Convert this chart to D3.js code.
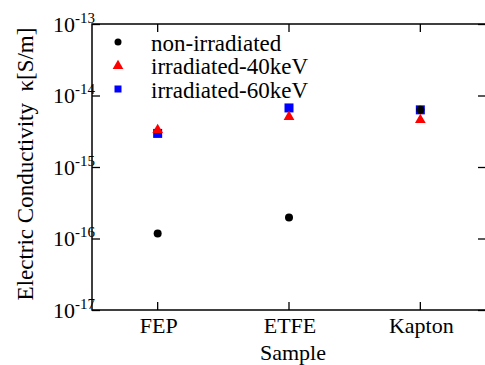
<!DOCTYPE html>
<html>
<head>
<meta charset="utf-8">
<script src="https://cdn.jsdelivr.net/npm/d3@7"></script>
<style>
  body { margin: 0; background: #fff; }
  svg { display: block; }
  svg text { font-family: 'Times New Roman', 'Liberation Serif', Times, 'DejaVu Serif', serif; }
</style>
</head>
<body>
<div id="chart"></div>
<script>
// data
const samples = ['FEP', 'ETFE', 'Kapton'];
const nonIrradiated = [1.17e-16, 1.97e-16, 6.3e-15];
const irradiated40 = [3.4e-15, 5.2e-15, 4.7e-15];
const irradiated60 = [2.95e-15, 6.7e-15, 6.3e-15];
const yTickExps = [-13, -14, -15, -16, -17];
const seriesNames = ['non-irradiated', 'irradiated-40keV', 'irradiated-60keV'];

const width = 485, height = 365;
const plotL = 92, plotR = 486, plotT = 24, plotB = 310;

const svg = d3.select('#chart')
  .append('svg')
  .attr('width', width)
  .attr('height', height);

const x = d3.scaleBand()
  .domain(samples)
  .range([plotL, plotR]);
const xc = d => x(d) + x.bandwidth() / 2;

const y = d3.scaleLog()
  .domain([1e-17, 1e-13])
  .range([plotB, plotT]);

const tickVals = yTickExps.map(e => Math.pow(10, e));

// ticks, all pointing inward
svg.append('g')
  .attr('transform', `translate(${plotL},0)`)
  .call(d3.axisRight(y).tickValues(tickVals).tickSize(8).tickFormat(''))
  .call(g => g.select('.domain').remove());
svg.append('g')
  .attr('transform', `translate(${plotR},0)`)
  .call(d3.axisLeft(y).tickValues(tickVals).tickSize(8).tickFormat(''))
  .call(g => g.select('.domain').remove());
svg.append('g')
  .attr('transform', `translate(0,${plotB})`)
  .call(d3.axisTop(x).tickSize(8).tickFormat(''))
  .call(g => g.select('.domain').remove());
svg.append('g')
  .attr('transform', `translate(0,${plotT})`)
  .call(d3.axisBottom(x).tickSize(8).tickFormat(''))
  .call(g => g.select('.domain').remove());
svg.selectAll('.tick line').attr('stroke', '#000').attr('stroke-width', 1.3);

// frame
svg.append('rect')
  .attr('x', plotL).attr('y', plotT)
  .attr('width', plotR - plotL).attr('height', plotB - plotT)
  .attr('fill', 'none').attr('stroke', '#000').attr('stroke-width', 1.5);

// y tick labels 10^n
const yl = svg.append('g').selectAll('text')
  .data(yTickExps)
  .enter().append('text')
  .attr('x', 53)
  .attr('y', d => y(Math.pow(10, d)) + 7.5)
  .attr('font-size', 22);
yl.append('tspan').text('10');
yl.append('tspan')
  .attr('font-size', 15)
  .attr('dy', -9)
  .text(d => '-' + Math.abs(d));

// x tick labels
svg.append('g').selectAll('text')
  .data(samples)
  .enter().append('text')
  .attr('x', d => xc(d) + 1)
  .attr('y', 333)
  .attr('text-anchor', 'middle')
  .attr('font-size', 22)
  .text(d => d);

svg.append('text')
  .attr('x', 293)
  .attr('y', 360)
  .attr('text-anchor', 'middle')
  .attr('font-size', 22)
  .text('Sample');

svg.append('text')
  .attr('transform', 'translate(33,164) rotate(-90)')
  .attr('text-anchor', 'middle')
  .attr('font-size', 23)
  .style('white-space', 'pre')
  .text('Electric Conductivity  \u03ba[S/m]');

// markers
const tri = d3.symbol().type(d3.symbolTriangle).size(50);

svg.append('g').selectAll('rect')
  .data(samples)
  .enter().append('rect')
  .attr('x', d => xc(d) - 4.5)
  .attr('y', (d, i) => y(irradiated60[i]) - 4.5)
  .attr('width', 9).attr('height', 9)
  .attr('fill', '#0000ff');

svg.append('g').selectAll('path')
  .data(samples)
  .enter().append('path')
  .attr('d', tri)
  .attr('transform', (d, i) => `translate(${xc(d)},${y(irradiated40[i]) + 1})`)
  .attr('fill', '#ff0000');

svg.append('g').selectAll('circle')
  .data(samples)
  .enter().append('circle')
  .attr('cx', d => xc(d))
  .attr('cy', (d, i) => y(nonIrradiated[i]))
  .attr('r', 4)
  .attr('fill', '#000');

// legend
const legend = svg.append('g').attr('id', 'legend');
const rowY = [42, 65, 89];
legend.append('circle').attr('cx', 118).attr('cy', rowY[0]).attr('r', 3.5).attr('fill', '#000');
legend.append('path').attr('d', tri).attr('transform', `translate(118,${rowY[1] + 1})`).attr('fill', '#ff0000');
legend.append('rect').attr('x', 114.5).attr('y', rowY[2] - 3.5).attr('width', 7).attr('height', 7).attr('fill', '#0000ff');
legend.selectAll('text')
  .data(seriesNames)
  .enter().append('text')
  .attr('x', 151)
  .attr('y', (d, i) => rowY[i] + 9)
  .attr('font-size', 23)
  .text(d => d);
</script>
</body>
</html>
